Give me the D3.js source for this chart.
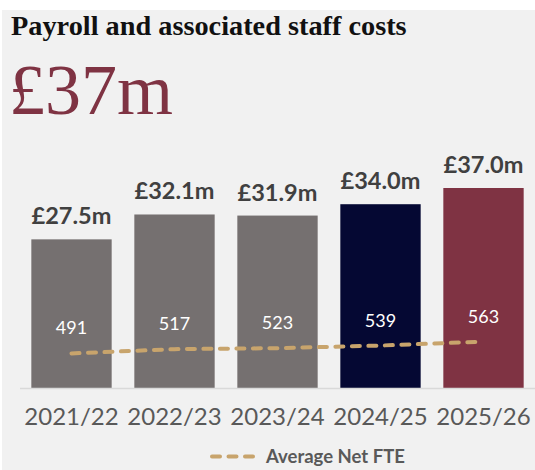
<!DOCTYPE html>
<html>
<head>
<meta charset="utf-8">
<script src="https://cdn.jsdelivr.net/npm/d3@7"></script>
<style>
  html, body { margin: 0; padding: 0; background: #ffffff; }
  svg { display: block; }
</style>
</head>
<body>
<svg id="chart" width="535" height="470"></svg>
<script>
// Financial years shown on the axis
const years = ["2021/22", "2022/23", "2023/24", "2024/25", "2025/26"];
// Payroll and associated staff costs, £m
const costs = [27.5, 32.1, 31.9, 34.0, 37.0];
// Average net full-time equivalent staff
const fte = [491, 517, 523, 539, 563];
const barColors = ["#757070", "#757070", "#757070", "#050833", "#7f3343"];
const headline = "£37m";
const title = "Payroll and associated staff costs";
const legendLabel = "Average Net FTE";

const svg = d3.select("#chart");
const W = 535, H = 470;
const baseY = 388;

// Panel background
svg.append("rect")
  .attr("x", 2).attr("y", 10)
  .attr("width", W - 2).attr("height", H - 10)
  .attr("fill", "#f1f1f1");

// Title and headline figure
svg.append("text")
  .attr("x", 11).attr("y", 35)
  .attr("font-family", "'Liberation Serif', serif")
  .attr("font-weight", "bold")
  .attr("font-size", 28.3)
  .attr("fill", "#111111")
  .text(title);

svg.append("text")
  .attr("x", 9).attr("y", 114)
  .attr("font-family", "'Liberation Serif', serif")
  .attr("font-size", 72)
  .attr("fill", "#7f3343")
  .text(headline);

// Scales
const x = d3.scaleBand()
  .domain(years)
  .range([20, 535])
  .paddingInner(0.22)
  .paddingOuter(0.11);

const y = d3.scaleLinear()
  .domain([0, 37])
  .range([baseY, 188]);

const yFte = d3.scaleLinear()
  .domain([280, 1500])
  .range([baseY, 188]);

// Bars
svg.append("g").selectAll("rect")
  .data(years)
  .join("rect")
  .attr("x", d => x(d))
  .attr("y", (d, i) => y(costs[i]))
  .attr("width", x.bandwidth())
  .attr("height", (d, i) => baseY - y(costs[i]))
  .attr("fill", (d, i) => barColors[i]);

// Cost labels above bars
svg.append("g").selectAll("text")
  .data(years)
  .join("text")
  .attr("x", d => x(d) + x.bandwidth() / 2)
  .attr("y", (d, i) => y(costs[i]) - 15)
  .attr("text-anchor", "middle")
  .attr("font-family", "Lato, sans-serif")
  .attr("font-weight", "bold")
  .attr("font-size", 23.5)
  .attr("fill", "#404040")
  .text((d, i) => "£" + costs[i].toFixed(1) + "m");

// Baseline axis
const axis = d3.axisBottom(x).tickSize(0).tickPadding(0);
const gAxis = svg.append("g")
  .attr("transform", `translate(0,${baseY})`)
  .call(axis);
gAxis.select(".domain")
  .attr("d", `M20,0.5H535`)
  .attr("stroke", "#d9d9d9")
  .attr("stroke-width", 1.5);
gAxis.selectAll(".tick text")
  .attr("y", 37)
  .attr("dy", null)
  .attr("font-family", "Lato, sans-serif")
  .attr("font-size", 24)
  .attr("fill", "#595959");

// Average net FTE line
const line = d3.line()
  .x((d, i) => x(years[i]) + x.bandwidth() / 2)
  .y(d => yFte(d));

svg.append("path")
  .datum(fte)
  .attr("d", line)
  .attr("fill", "none")
  .attr("stroke", "#c8a46c")
  .attr("stroke-width", 4)
  .attr("stroke-linecap", "round")
  .attr("stroke-dasharray", "8,8.5");

// FTE labels
svg.append("g").selectAll("text")
  .data(fte)
  .join("text")
  .attr("x", (d, i) => x(years[i]) + x.bandwidth() / 2)
  .attr("y", d => yFte(d) - 19)
  .attr("text-anchor", "middle")
  .attr("font-family", "Lato, sans-serif")
  .attr("font-size", 18)
  .attr("fill", "#ffffff")
  .text(d => d);

// Legend
const legend = svg.append("g");
legend.append("line")
  .attr("x1", 212).attr("x2", 255)
  .attr("y1", 456.5).attr("y2", 456.5)
  .attr("stroke", "#c8a46c")
  .attr("stroke-width", 4)
  .attr("stroke-linecap", "round")
  .attr("stroke-dasharray", "8,8.5");
legend.append("text")
  .attr("x", 266).attr("y", 463)
  .attr("font-family", "Lato, sans-serif")
  .attr("font-weight", "bold")
  .attr("font-size", 18.5)
  .attr("fill", "#595959")
  .text(legendLabel);
</script>
</body>
</html>
